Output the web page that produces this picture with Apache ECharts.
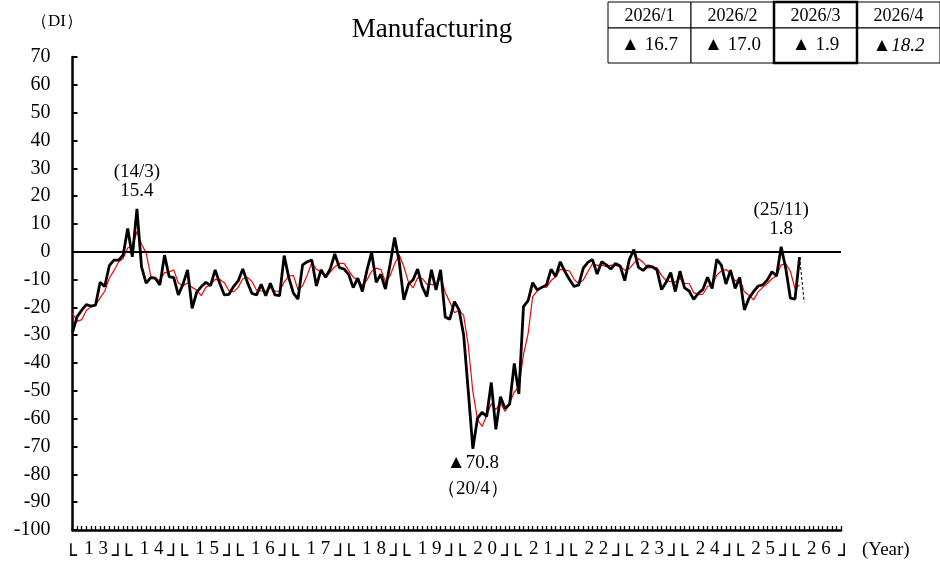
<!DOCTYPE html>
<html><head><meta charset="utf-8">
<script src="https://cdn.jsdelivr.net/npm/echarts@6/dist/echarts.min.js"></script>
<style>html,body{margin:0;padding:0;background:#fff}#c{width:940px;height:565px}</style>
</head><body><div id="c"></div>
<script>
// ---------- data ----------
const years = [2013,2014,2015,2016,2017,2018,2019,2020,2021,2022,2023,2024,2025,2026];
// year tick labels: boundary slots and year-centre slots alternate
const yearNumLabels = ['','1 3','','1 4','','1 5','','1 6','','1 7','','1 8','','1 9','','2 0','','2 1','','2 2','','2 3','','2 4','','2 5','','2 6',''];
const yearBracketLabels = ['└','','┘└','','┘└','','┘└','','┘└','','┘└','','┘└','','┘└','','┘└','','┘└','','┘└','','┘└','','┘└','','┘└','','┘'];

// Manufacturing DI (black), monthly from 2013/1 to 2026/3
const diActual = [
  -29, -23.3, -21, -19, -19.5, -19.2, -11, -12.5, -5, -3, -3, -1.2,
  8.4, -1.8, 15.4, -5.4, -11.3, -9.3, -9.5, -11.9, -1.2, -8.9, -9.3, -15.5,
  -11.7, -6.5, -20.3, -14.5, -12.5, -11, -12.2, -6.5, -11.3, -15.5, -15.3, -12.5,
  -10.5, -6.2, -11, -15, -15.5, -11.7, -15.8, -11.3, -15.5, -15.8, -1.4, -9.3,
  -14.9, -17, -4.7, -3.6, -3.0, -12.3, -6.5, -9.2, -6.2, -0.8, -5.7, -6.2,
  -8.1, -12.9, -9.5, -14.3, -6.5, -0.2, -11, -8.1, -13.4, -4.7, 5.1, -3.6,
  -17.3, -11.7, -10.1, -6.2, -12.5, -16.1, -6.5, -13.7, -6.5, -23.5, -24.2, -17.9,
  -20.9, -29.9, -50, -70.8, -59.9, -57.7, -59.2, -47, -63.8, -52.1, -56.3, -54.7,
  -40.1, -51.1, -19.7, -17.6, -11.1, -13.7, -12.8, -11.9, -6.3, -8.9, -3.6, -7.1,
  -10, -12.5, -11.9, -5.9, -3.8, -2.8, -8, -3.6, -4.7, -6.2, -4.2, -5.1,
  -10.4, -2.8, 0.8, -5.6, -6.7, -5.1, -5.4, -6.5, -13.6, -11, -7.5, -14.3,
  -7, -13, -14.1, -17.1, -14.9, -13.5, -9.2, -13.2, -2.7, -4.8, -11.6, -6.6,
  -13.2, -9.2, -20.9, -16.7, -14.3, -12.3, -11.9, -10.1, -7.2, -8.7, 1.8, -6,
  -16.7, -17.0, -1.9
];
// red line (3-month moving average as drawn)
const diAverage = [
  -22, -25, -24.4, -21.1, -19.8, -19.2, -16.6, -14.2, -9.5, -6.8, -3.7, -2.4,
  1.4, 1.8, 7.3, 2.7, -0.4, -8.7, -10.0, -10.2, -7.5, -7.3, -6.5, -11.2,
  -12.2, -11.2, -12.8, -13.8, -15.8, -12.7, -11.9, -9.9, -10.0, -11.1, -14.0, -14.4,
  -12.8, -9.7, -9.2, -10.7, -13.8, -14.1, -14.3, -12.9, -14.2, -14.2, -10.9, -8.8,
  -8.5, -13.7, -12.2, -8.4, -3.8, -6.3, -7.3, -9.3, -7.3, -5.4, -4.2, -4.2,
  -6.7, -9.1, -10.2, -12.2, -10.1, -7.0, -5.9, -6.4, -10.8, -8.7, -4.3, -1.1,
  -5.3, -10.9, -13.0, -9.3, -9.6, -11.6, -11.7, -12.1, -8.9, -14.6, -18.1, -21.9,
  -21.0, -22.9, -33.6, -50.2, -60.2, -62.8, -58.9, -54.6, -56.7, -54.3, -57.4, -54.4,
  -50.4, -48.6, -37.0, -29.5, -16.1, -14.1, -12.5, -12.8, -10.3, -9.0, -6.3, -6.5,
  -6.9, -9.9, -11.5, -10.1, -7.2, -4.2, -4.9, -4.8, -5.4, -4.8, -5.0, -5.2,
  -6.6, -6.1, -4.1, -2.5, -3.8, -5.8, -5.7, -5.7, -8.5, -10.4, -10.7, -10.9,
  -9.6, -11.4, -11.4, -14.7, -15.4, -15.2, -12.5, -12.0, -8.4, -6.9, -6.4, -7.7,
  -10.5, -9.7, -14.4, -15.6, -17.3, -14.4, -12.8, -11.4, -9.7, -8.7, -4.7, -4.3,
  -7.0, -13.2, -11.9
];
const forecastValue = -18.2; // 2026/4 forecast

const tableMonths = ['2026/1', '2026/2', '2026/3', '2026/4'];
const tableValues = ['▲ 16.7', '▲ 17.0', '▲ 1.9', '▲18.2'];

const notes = [
  { idx: 14, lines: ['(14/3)', '15.4'], pos: 'top' },
  { idx: 87, lines: ['▲70.8', '（20/4）'], pos: 'bottom' },
  { idx: 154, lines: ['(25/11)', '1.8'], pos: 'top' }
];

// ---------- build ----------
const months = [];
years.forEach(y => { for (let m = 1; m <= 12; m++) months.push(y + '/' + m); });

const lastIdx = diActual.length - 1;
const forecastData = months.map((_, i) => i === lastIdx ? diActual[lastIdx] : (i === lastIdx + 1 ? forecastValue : null));

const FONT = '"Liberation Serif", "Times New Roman", serif';
const BOXFONT = '"DejaVu Sans"';

const markPts = notes.map(n => ({
  coord: [months[n.idx], diActual[n.idx]],
  label: {
    show: true,
    position: n.pos,
    distance: n.pos === 'top' ? 8 : 1,
    formatter: n.lines.join('\n'),
    fontFamily: FONT,
    fontSize: 19,
    lineHeight: n.pos === 'top' ? 19 : 26,
    color: '#000'
  }
}));

// table graphics
const tbl = [];
const tX = 608, cw = 83, tY = 2, rh1 = 26, rh2 = 35;
tableMonths.forEach((t, i) => {
  tbl.push({ type: 'rect', shape: { x: tX + i * cw, y: tY, width: cw, height: rh1 }, style: { fill: '#fff', stroke: '#000', lineWidth: 1 } });
  tbl.push({ type: 'rect', shape: { x: tX + i * cw, y: tY + rh1, width: cw, height: rh2 }, style: { fill: '#fff', stroke: '#000', lineWidth: 1 } });
});
tbl.push({ type: 'rect', z: 10, shape: { x: tX + 2 * cw, y: tY, width: cw, height: rh1 + rh2 }, style: { fill: 'none', stroke: '#000', lineWidth: 2.5 } });
tableMonths.forEach((t, i) => {
  tbl.push({ type: 'text', z: 11, style: { text: t, x: tX + i * cw + cw / 2, y: tY + rh1 / 2 + 1, textAlign: 'center', textVerticalAlign: 'middle', align: 'center', verticalAlign: 'middle', font: '18px ' + FONT, fill: '#000' } });
  tbl.push({ type: 'text', z: 11, style: { text: tableValues[i], x: tX + i * cw + cw / 2, y: tY + rh1 + rh2 / 2, textAlign: 'center', textVerticalAlign: 'middle', align: 'center', verticalAlign: 'middle', font: (i === 3 ? 'italic ' : '') + '19px ' + FONT, fill: '#000' } });
});

function bracketFmt(v) {
  if (v === '└') return '{h|┘}{b|└}';
  if (v === '┘') return '{a|┘}{h|└}';
  if (v === '┘└') return '{a|┘}{b|└}';
  return '';
}
const bracketRich = {
  a: { fontFamily: BOXFONT, fontSize: 20, width: 5, color: '#000' },
  b: { fontFamily: BOXFONT, fontSize: 20, color: '#000' },
  h: { fontFamily: BOXFONT, fontSize: 20, width: 5, color: 'rgba(0,0,0,0)' }
};

const labelGrid = { left: 68.2, width: 778.4, top: 530, height: 1 };

const chart = echarts.init(document.getElementById('c'));
chart.setOption({
  animation: false,
  backgroundColor: '#fff',
  textStyle: { fontFamily: FONT, color: '#000' },
  grid: [
    { left: 72.5, right: 99, top: 57, bottom: 35 },
    labelGrid,
    Object.assign({}, labelGrid)
  ],
  xAxis: [
    { type: 'category', gridIndex: 0, data: months, boundaryGap: false,
      axisLine: { onZero: false, lineStyle: { color: '#000', width: 2.5 } },
      axisTick: { show: true, inside: true, interval: 0, length: 4, lineStyle: { color: '#000', width: 1.3 } },
      axisLabel: { show: false }, splitLine: { show: false } },
    { type: 'category', gridIndex: 1, position: 'bottom', data: yearNumLabels, boundaryGap: false,
      axisLine: { show: false }, axisTick: { show: false },
      axisLabel: { interval: 0, margin: 9, fontFamily: FONT, fontSize: 19, color: '#000' } },
    { type: 'category', gridIndex: 2, position: 'bottom', data: yearBracketLabels, boundaryGap: false,
      axisLine: { show: false }, axisTick: { show: false },
      axisLabel: { interval: 0, margin: 17, formatter: bracketFmt, rich: bracketRich } }
  ],
  yAxis: [
    { type: 'value', gridIndex: 0, min: -100, max: 70, interval: 10,
      axisLine: { show: true, onZero: false, lineStyle: { color: '#000', width: 2.5 } },
      axisTick: { show: true, inside: true, length: 5, lineStyle: { color: '#000', width: 2 } },
      axisLabel: { margin: 22, fontFamily: FONT, fontSize: 20, color: '#000' },
      splitLine: { show: false } },
    { type: 'value', gridIndex: 1, show: false },
    { type: 'value', gridIndex: 2, show: false }
  ],
  series: [
    { name: 'avg', type: 'line', data: diAverage, symbol: 'none', z: 2,
      lineStyle: { color: '#ff0000', width: 1.2 } },
    { name: 'forecast', type: 'line', data: forecastData, symbol: 'none', z: 2, connectNulls: false,
      lineStyle: { color: '#000', width: 1, type: [3, 2] } },
    { name: 'DI', type: 'line', data: diActual, symbol: 'none', z: 3,
      lineStyle: { color: '#000', width: 2.8 },
      markLine: { silent: true, symbol: 'none', label: { show: false },
        lineStyle: { color: '#000', width: 2, type: 'solid' }, data: [{ yAxis: 0 }] },
      markPoint: { symbol: 'circle', symbolSize: 0, itemStyle: { color: 'rgba(0,0,0,0)' }, data: markPts } }
  ],
  graphic: [
    { type: 'text', style: { text: 'Manufacturing', x: 432, y: 30, textAlign: 'center', textVerticalAlign: 'middle', align: 'center', verticalAlign: 'middle', font: '27px ' + FONT, fill: '#000' } },
    { type: 'text', style: { text: '（DI）', x: 31, y: 22, textVerticalAlign: 'middle', verticalAlign: 'middle', font: '17px ' + FONT, fill: '#000' } },
    { type: 'text', style: { text: '(Year)', x: 862, y: 550, textVerticalAlign: 'middle', verticalAlign: 'middle', font: '19px ' + FONT, fill: '#000' } },
    { type: 'group', children: tbl }
  ]
});
</script></body></html>
